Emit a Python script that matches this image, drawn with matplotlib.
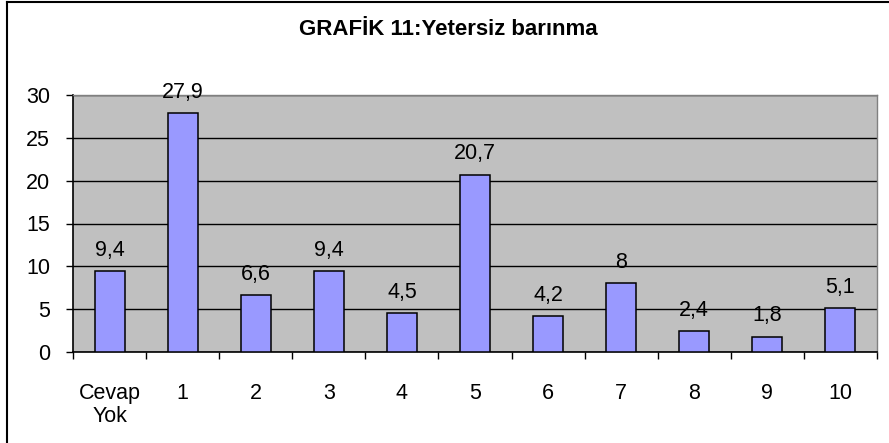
import matplotlib
matplotlib.use("Agg")
import matplotlib.pyplot as plt
from matplotlib.lines import Line2D
import numpy as np

categories = ["Cevap\nYok", "1", "2", "3", "4", "5", "6", "7", "8", "9", "10"]
values = [9.4, 27.9, 6.6, 9.4, 4.5, 20.7, 4.2, 8, 2.4, 1.8, 5.1]
value_labels = ["9,4", "27,9", "6,6", "9,4", "4,5", "20,7", "4,2", "8", "2,4", "1,8", "5,1"]
title = "GRAFİK 11:Yetersiz barınma"

plt.rcParams['font.family'] = ['Liberation Sans', 'DejaVu Sans']
FS = 15.5

fig = plt.figure(figsize=(8.89, 4.43), dpi=100)
ax = fig.add_axes([73/889, 1-352/443, (877-73)/889, (352-95)/443])
ax.set_facecolor('#C0C0C0')

x = np.arange(len(categories))
ax.bar(x, values, width=0.41, color='#9999FF', edgecolor='black', linewidth=1.1, zorder=3)

ax.set_xlim(-0.5, len(categories) - 0.5)
ax.set_ylim(0, 30)
ax.set_yticks(range(0, 31, 5))
ax.tick_params(axis='y', direction='out', length=5, width=1, labelsize=FS, pad=11.5)
ax.set_xticks(x)
ax.set_xticklabels(categories, fontsize=FS, linespacing=1.15, va='top')
ax.tick_params(axis='x', length=0, pad=22)
ax.set_xticks(np.arange(-0.5, len(categories), 1), minor=True)
ax.tick_params(axis='x', which='minor', direction='out', length=5, width=1)
ax.yaxis.grid(True, color='black', linewidth=1, zorder=1)
ax.set_axisbelow(True)

for s in ['top', 'right']:
    ax.spines[s].set_color('#808080')
    ax.spines[s].set_linewidth(1)
for s in ['left', 'bottom']:
    ax.spines[s].set_color('black')
    ax.spines[s].set_linewidth(1.2)

for xi, v, lab in zip(x, values, value_labels):
    ax.annotate(lab, (xi, v), xytext=(0, 7.5), textcoords='offset points',
                ha='center', va='bottom', fontsize=FS, zorder=4)

fig.text(448/889, 1-35/443, title, ha='center', va='baseline', fontsize=16, fontweight='bold')

fig.add_artist(Line2D([7/889, 7/889], [0, 1-1.5/443], transform=fig.transFigure, color='black', linewidth=1.5))
fig.add_artist(Line2D([7/889, 1], [1-1.5/443, 1-1.5/443], transform=fig.transFigure, color='black', linewidth=1.5))

fig.savefig("out.png", dpi=100)
